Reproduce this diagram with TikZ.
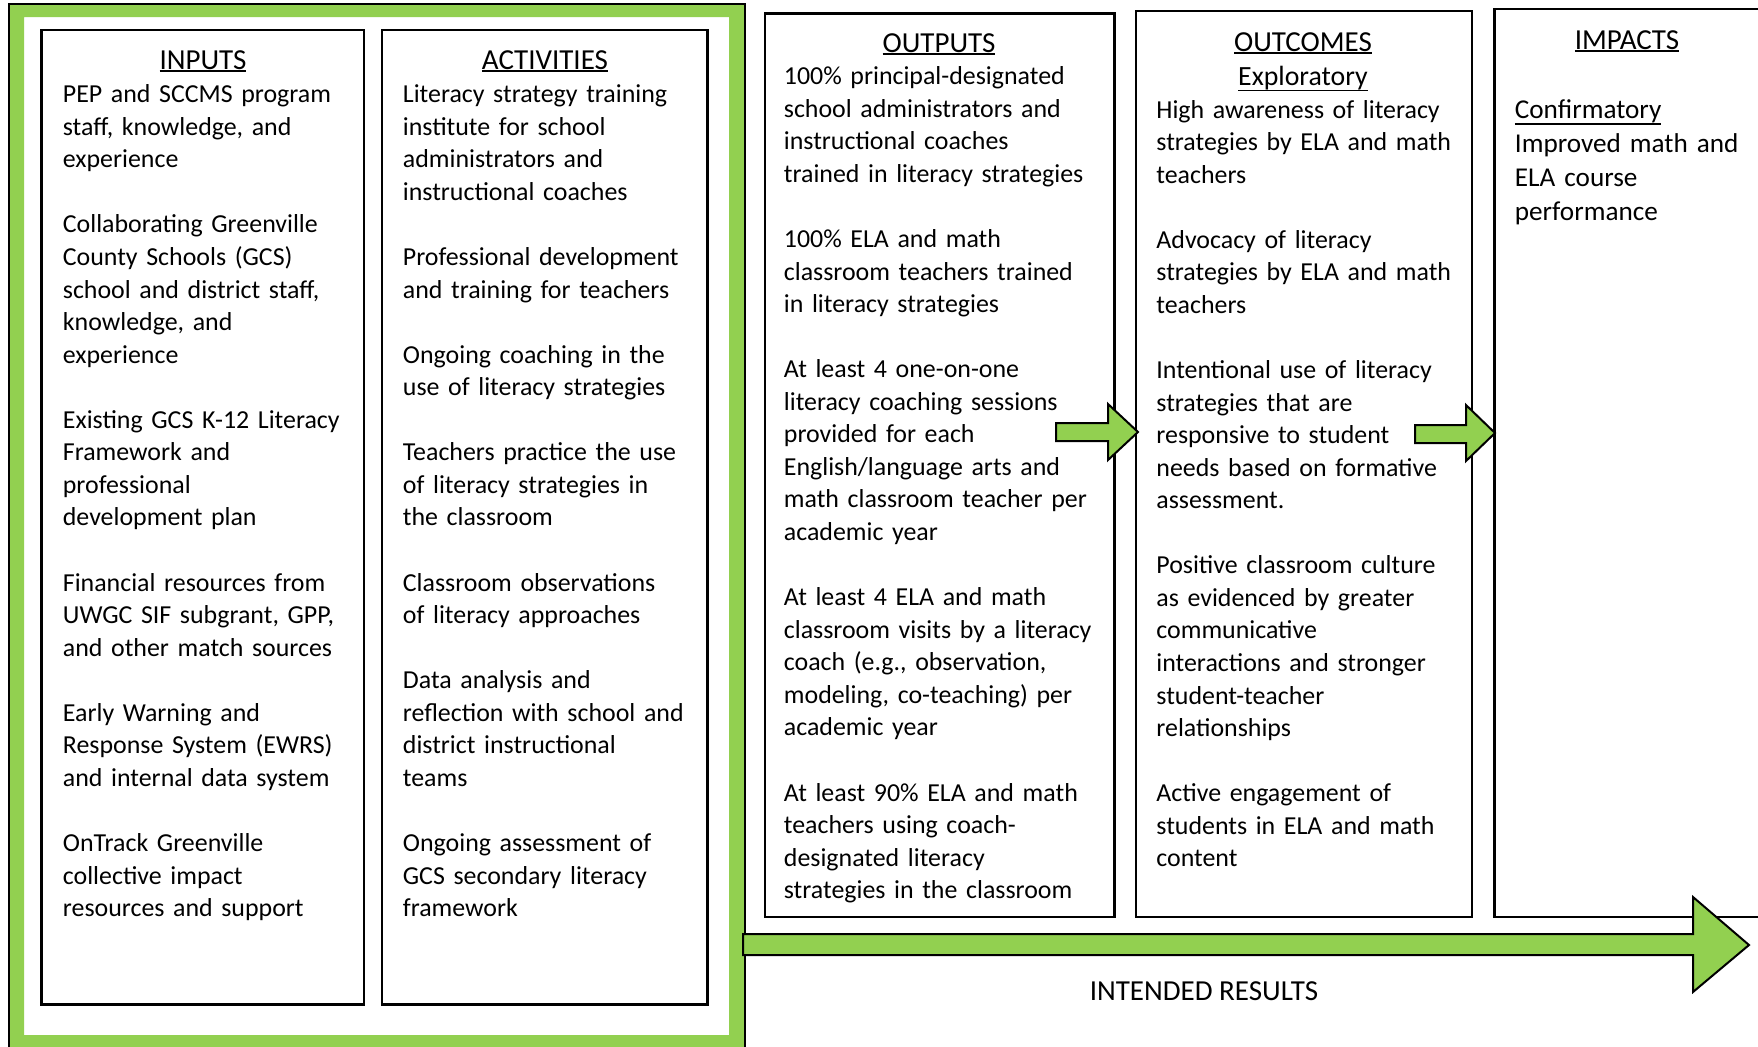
\documentclass[tikz,border=0pt]{standalone}
\usepackage{fontspec}
\setmainfont{Carlito}
\definecolor{lgreen}{HTML}{92D050}
\newcommand{\headul}[1]{\setbox0\hbox{#1}\dimen0=\dp0\ifdim\dimen0<0.9pt\dimen0=0.9pt\fi\rlap{\rule[\dimexpr-\dimen0-0.9pt\relax]{\wd0}{0.75pt}}\box0}

\begin{document}
\begin{tikzpicture}[x=0.5pt, y=-0.5pt,
        box/.style={draw=black, line width=1.2pt},
        head/.style={anchor=base, inner sep=0pt, font=\fontsize{14.5pt}{17pt}\selectfont},
        body/.style={anchor=base west, inner sep=0pt, align=left, text width=175pt, font=\fontsize{12.95pt}{16.28pt}\selectfont},
        blockarrow/.style={fill=lgreen, draw=black, line width=1pt, line join=miter}]
        \useasboundingbox (0,0) rectangle (1758,1046);
        \clip (0,0) rectangle (1758,1046);
        \fill[lgreen, even odd rule] (9,4) rectangle (745,1070) (24,17) rectangle (729,1035);
        \draw[line width=0.8pt] (9,4) rectangle (745,1070);
        \draw[box] (41.5,30) rectangle (364,1004.5);
        \draw[box] (382,30) rectangle (707.5,1004.5);
        \draw[box] (765,13.5) rectangle (1114.5,917);
        \draw[box] (1136,11) rectangle (1472,917);
        \draw[box] (1494.5,9) rectangle (1770,917);

        \node[head] (inputs-title) at (203,69.5) {\headul{INPUTS}};
        \node[body] (inputs-text) at (62.5,102.7) {PEP and SCCMS program\\staff, knowledge, and\\experience\\[16.28pt]
            Collaborating Greenville\\County Schools (GCS)\\school and district staff,\\knowledge, and\\experience\\[16.28pt]
            Existing GCS K-12 Literacy\\Framework and\\professional\\development plan\\[16.28pt]
            Financial resources from\\UWGC SIF subgrant, GPP,\\and other match sources\\[16.28pt]
            Early Warning and\\Response System (EWRS)\\and internal data system\\[16.28pt]
            OnTrack Greenville\\collective impact\\resources and support};

        \node[head] (activities-title) at (545,69.5) {\headul{ACTIVITIES}};
        \node[body] (activities-text) at (402.5,102.7) {Literacy strategy training\\institute for school\\administrators and\\instructional coaches\\[16.28pt]
            Professional development\\and training for teachers\\[16.28pt]
            Ongoing coaching in the\\use of literacy strategies\\[16.28pt]
            Teachers practice the use\\of literacy strategies in\\the classroom\\[16.28pt]
            Classroom observations\\of literacy approaches\\[16.28pt]
            Data analysis and\\reflection with school and\\district instructional\\teams\\[16.28pt]
            Ongoing assessment of\\GCS secondary literacy\\framework};

        \node[head] (outputs-title) at (939,52.5) {\headul{OUTPUTS}};
        \node[body] (outputs-text) at (783.5,84.7) {100\% principal-designated\\school administrators and\\instructional coaches\\trained in literacy strategies\\[16.28pt]
            100\% ELA and math\\classroom teachers trained\\in literacy strategies\\[16.28pt]
            At least 4 one-on-one\\literacy coaching sessions\\provided for each\\English/language arts and\\math classroom teacher per\\academic year\\[16.28pt]
            At least 4 ELA and math\\classroom visits by a literacy\\coach (e.g., observation,\\modeling, co-teaching) per\\academic year\\[16.28pt]
            At least 90\% ELA and math\\teachers using coach-\\designated literacy\\strategies in the classroom};

        \node[head] (outcomes-title) at (1303,51.5) {\headul{OUTCOMES}};
        \node[head, font=\fontsize{13.9pt}{17pt}\selectfont] (outcomes-sub) at (1303,85) {\headul{Exploratory}};
        \node[body] (outcomes-text) at (1156,118) {High awareness of literacy\\strategies by ELA and math\\teachers\\[16.28pt]
            Advocacy of literacy\\strategies by ELA and math\\teachers\\[16.28pt]
            Intentional use of literacy\\strategies that are\\responsive to student\\needs based on formative\\assessment.\\[16.28pt]
            Positive classroom culture\\as evidenced by greater\\communicative\\interactions and stronger\\student-teacher\\relationships\\[16.28pt]
            Active engagement of\\students in ELA and math\\content};

        \node[head] (impacts-title) at (1627,49.5) {\headul{IMPACTS}};
        \node[body, font=\fontsize{13.6pt}{17pt}\selectfont] (impacts-text) at (1514.5,118.5) {\headul{Confirmatory}\\Improved math and\\ELA course\\performance};

        \filldraw[blockarrow] (1056,423) -- (1108,423) -- (1108,404) -- (1138,432) -- (1108,460) -- (1108,441) -- (1056,441) -- cycle;
        \filldraw[blockarrow] (1415,425) -- (1466,425) -- (1466,405) -- (1495,433) -- (1466,461) -- (1466,443) -- (1415,443) -- cycle;
        \filldraw[blockarrow] (743,934) -- (1693,934) -- (1693,897) -- (1749,945) -- (1693,992) -- (1693,955) -- (743,955) -- cycle;
        \node[head] (results) at (1204,1000) {INTENDED RESULTS};
    \end{tikzpicture}
\end{document}
